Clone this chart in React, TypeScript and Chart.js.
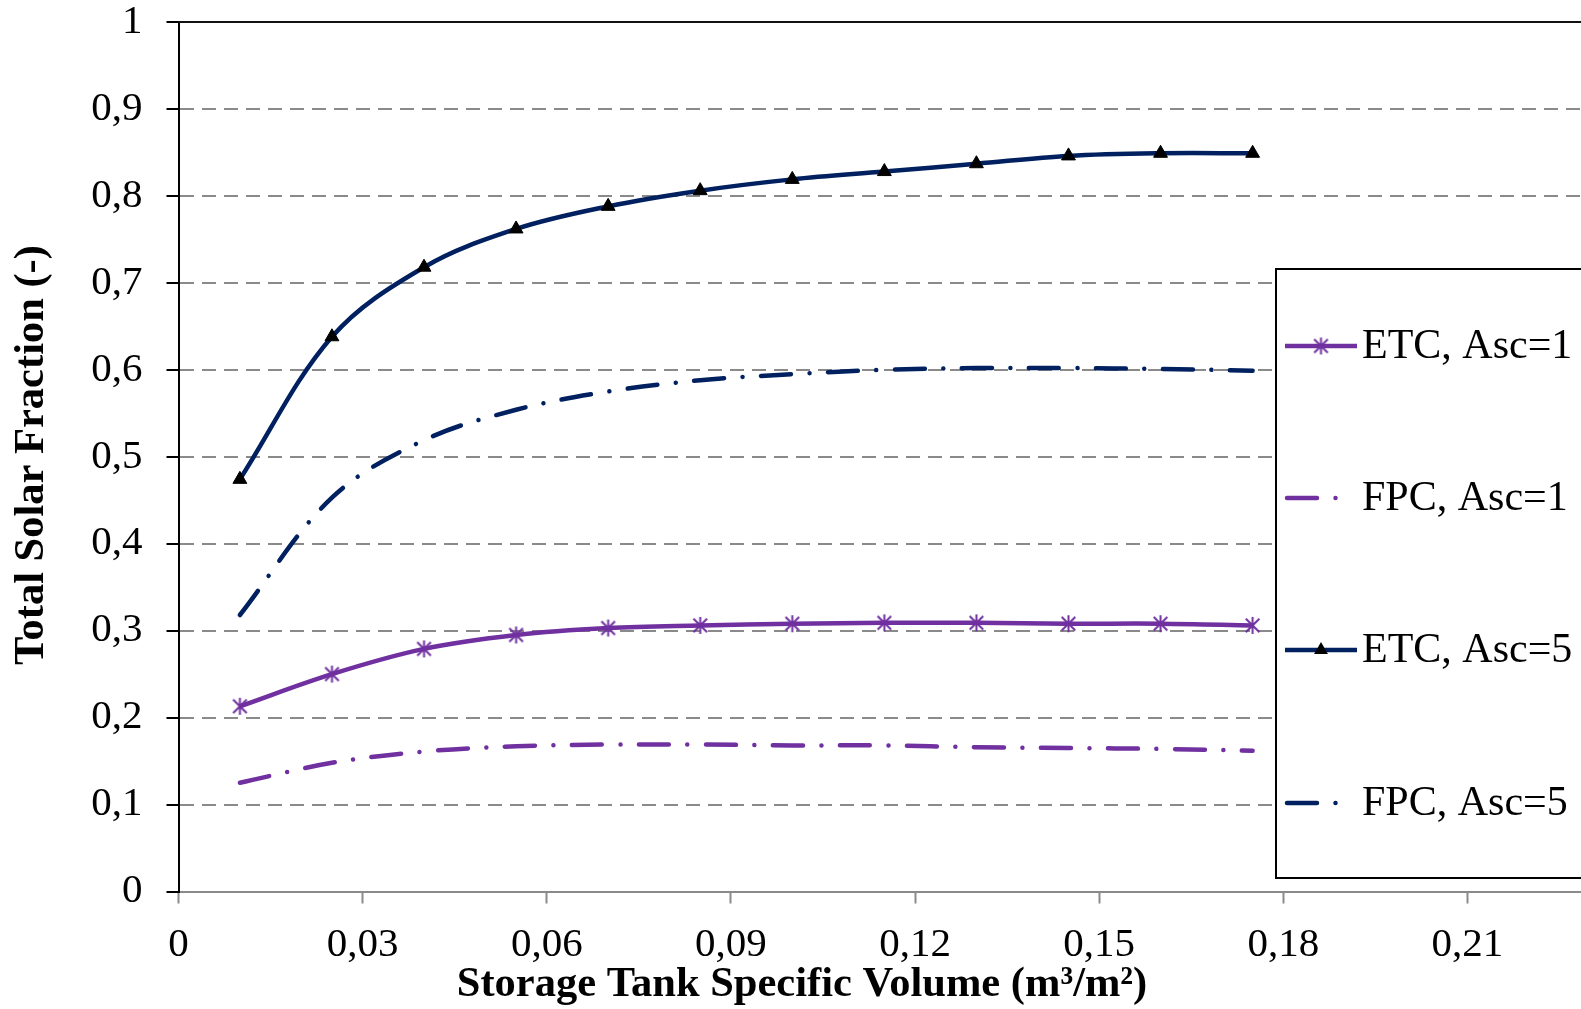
import React, { useEffect, useRef } from "react";
import { Chart, registerables } from "chart.js";

Chart.register(...registerables);

// Storage tank specific volume (m³/m²) at which each case was simulated
const volumes = [0.01, 0.025, 0.04, 0.055, 0.07, 0.085, 0.1, 0.115, 0.13, 0.145, 0.16, 0.175];

// Total solar fraction for each collector / collector-area case
const etcAsc1 = [0.213, 0.25, 0.279, 0.295, 0.303, 0.306, 0.308, 0.309, 0.309, 0.308, 0.308, 0.306];
const fpcAsc1 = [0.125, 0.148, 0.161, 0.167, 0.169, 0.169, 0.168, 0.168, 0.166, 0.165, 0.164, 0.162];
const etcAsc5 = [0.474, 0.638, 0.718, 0.762, 0.788, 0.806, 0.819, 0.828, 0.837, 0.846, 0.849, 0.849];
const fpcAsc5 = [0.318, 0.453, 0.519, 0.554, 0.575, 0.588, 0.595, 0.6, 0.602, 0.602, 0.601, 0.599];

const seriesNames = ["ETC, Asc=1", "FPC, Asc=1", "ETC, Asc=5", "FPC, Asc=5"];

const xTicks = [0, 0.03, 0.06, 0.09, 0.12, 0.15, 0.18, 0.21];
const yTicks = [0, 0.1, 0.2, 0.3, 0.4, 0.5, 0.6, 0.7, 0.8, 0.9, 1];

const xTitle = "Storage Tank Specific Volume (m³/m²)";
const yTitle = "Total Solar Fraction (-)";

const PURPLE = "#7030A0";
const NAVY = "#002060";
const GRID = "#8a8a8a";
const SERIF = "'Liberation Serif', 'Times New Roman', serif";
const DASH_DOT = [30, 18.5, 0.01, 18.5];
const TICK_FONT = 41;
const LEGEND_FONT = 42;
const TITLE_FONT = 42.5;

const W = 1581;
const H = 1009;

const commaFormat = (v: number, digits: number) => {
  if (Math.abs(v) < 1e-9) return "0";
  if (Math.abs(v - 1) < 1e-9) return "1";
  return v.toFixed(digits).replace(".", ",");
};

// Excel-style asterisk marker: vertical bar plus an X
function makeAsterisk(color: string, size: number) {
  const c = document.createElement("canvas");
  c.width = size;
  c.height = size;
  const g = c.getContext("2d")!;
  g.strokeStyle = color;
  g.lineWidth = 2;
  const m = size / 2;
  const r = size / 2 - 1;
  const d = r * 0.8;
  g.beginPath();
  g.moveTo(m, m - r);
  g.lineTo(m, m + r);
  g.moveTo(m - d, m - d);
  g.lineTo(m + d, m + d);
  g.moveTo(m + d, m - d);
  g.lineTo(m - d, m + d);
  g.stroke();
  return c;
}

const toPoints = (ys: number[]) => volumes.map((x, i) => ({ x, y: ys[i] }));

export default function App() {
  const canvasRef = useRef<HTMLCanvasElement | null>(null);

  useEffect(() => {
    const canvas = canvasRef.current;
    if (!canvas) return;
    const asterisk = makeAsterisk(PURPLE, 19);

    const decorPlugin = {
      id: "decor",
      afterDraw(chart: any) {
        const ctx = chart.ctx as CanvasRenderingContext2D;
        const area = chart.chartArea;
        ctx.save();

        // solid top frame line
        ctx.strokeStyle = "#111";
        ctx.lineWidth = 2;
        ctx.setLineDash([]);
        ctx.beginPath();
        ctx.moveTo(area.left, area.top);
        ctx.lineTo(W, area.top);
        ctx.stroke();

        // axis titles
        ctx.fillStyle = "#000";
        ctx.textAlign = "center";
        ctx.textBaseline = "middle";
        ctx.font = `bold ${TITLE_FONT}px ${SERIF}`;
        ctx.fillText(xTitle, 802, 985);

        ctx.save();
        ctx.translate(32, 455);
        ctx.rotate(-Math.PI / 2);
        ctx.fillText(yTitle, 0, 0);
        ctx.restore();

        // legend box
        const bx = 1276;
        const by = 269;
        const bb = 878;
        ctx.fillStyle = "#fff";
        ctx.fillRect(bx, by, W - bx + 10, bb - by);
        ctx.strokeStyle = "#000";
        ctx.lineWidth = 2;
        ctx.strokeRect(bx, by, W - bx + 10, bb - by);

        const rows = [346, 498, 650, 803];
        chart.data.datasets.forEach((ds: any, i: number) => {
          const y = rows[i];
          ctx.save();
          ctx.strokeStyle = ds.borderColor;
          ctx.lineWidth = ds.borderWidth;
          const dashed = ds.borderDash && ds.borderDash.length > 0;
          ctx.setLineDash(dashed ? ds.borderDash : []);
          ctx.lineCap = dashed ? "round" : "butt";
          ctx.beginPath();
          if (dashed) {
            ctx.moveTo(1287, y);
            ctx.lineTo(1340, y);
          } else {
            ctx.moveTo(1285, y);
            ctx.lineTo(1357, y);
          }
          ctx.stroke();
          ctx.restore();

          const mx = 1321;
          if (ds.pointStyle === "triangle") {
            const r = ds.pointRadius;
            ctx.fillStyle = ds.pointBackgroundColor;
            ctx.beginPath();
            ctx.moveTo(mx, y - r);
            ctx.lineTo(mx + r * Math.sin((2 * Math.PI) / 3), y - r * Math.cos((2 * Math.PI) / 3));
            ctx.lineTo(mx + r * Math.sin((4 * Math.PI) / 3), y - r * Math.cos((4 * Math.PI) / 3));
            ctx.closePath();
            ctx.fill();
          } else if (ds.pointStyle instanceof HTMLCanvasElement) {
            const img = ds.pointStyle as HTMLCanvasElement;
            ctx.drawImage(img, mx - img.width / 2, y - img.height / 2);
          }

          ctx.fillStyle = "#000";
          ctx.font = `${LEGEND_FONT}px ${SERIF}`;
          ctx.textAlign = "left";
          ctx.textBaseline = "middle";
          ctx.fillText(ds.label, 1362, y + 1);
        });

        ctx.restore();
      },
    };

    const chart = new Chart(canvas, {
      type: "line",
      data: {
        datasets: [
          {
            label: seriesNames[0],
            data: toPoints(etcAsc1),
            borderColor: PURPLE,
            backgroundColor: PURPLE,
            borderWidth: 4.5,
            tension: 0.35,
            pointStyle: asterisk as any,
            pointRadius: 8,
            fill: false,
          },
          {
            label: seriesNames[1],
            data: toPoints(fpcAsc1),
            borderColor: PURPLE,
            backgroundColor: PURPLE,
            borderWidth: 4.5,
            borderDash: DASH_DOT,
            borderCapStyle: "round",
            tension: 0.35,
            pointRadius: 0,
            fill: false,
          },
          {
            label: seriesNames[2],
            data: toPoints(etcAsc5),
            borderColor: NAVY,
            backgroundColor: NAVY,
            borderWidth: 4.5,
            tension: 0.35,
            pointStyle: "triangle",
            pointRadius: 8,
            pointBackgroundColor: "#000",
            pointBorderColor: "#000",
            pointBorderWidth: 1,
            fill: false,
          },
          {
            label: seriesNames[3],
            data: toPoints(fpcAsc5),
            borderColor: NAVY,
            backgroundColor: NAVY,
            borderWidth: 4.5,
            borderDash: DASH_DOT,
            borderCapStyle: "round",
            tension: 0.35,
            pointRadius: 0,
            fill: false,
          },
        ],
      },
      options: {
        animation: false,
        responsive: false,
        maintainAspectRatio: false,
        events: [],
        layout: { autoPadding: false, padding: { top: 22, left: 0, right: 0, bottom: 0 } },
        plugins: {
          legend: { display: false },
          tooltip: { enabled: false },
          title: { display: false },
        },
        scales: {
          x: {
            type: "linear",
            min: 0,
            max: 0.2285,
            afterBuildTicks: (s: any) => {
              s.ticks = xTicks.map((v) => ({ value: v }));
            },
            afterFit: (s: any) => {
              s.height = H - 891.5;
              s.paddingLeft = 0;
              s.paddingRight = 0;
            },
            ticks: {
              autoSkip: false,
              maxRotation: 0,
              padding: 17,
              color: "#000",
              font: { family: SERIF, size: TICK_FONT },
              callback: (v: any) => commaFormat(Number(v), 2),
            },
            grid: {
              display: true,
              drawOnChartArea: false,
              drawTicks: true,
              tickLength: 12,
              tickColor: GRID,
              tickWidth: 2,
            },
            border: { display: true, color: GRID, width: 2 },
          },
          y: {
            type: "linear",
            min: 0,
            max: 1,
            afterBuildTicks: (s: any) => {
              s.ticks = yTicks.map((v) => ({ value: v }));
            },
            afterFit: (s: any) => {
              s.width = 178.5;
              s.paddingTop = 0;
              s.paddingBottom = 0;
            },
            ticks: {
              autoSkip: false,
              padding: 24,
              color: "#000",
              font: { family: SERIF, size: TICK_FONT },
              callback: (v: any) => commaFormat(Number(v), 1),
            },
            grid: {
              display: true,
              color: GRID,
              lineWidth: 2,
              drawTicks: true,
              tickLength: 12,
              tickColor: "#000",
              tickWidth: 2,
              tickBorderDash: [],
            },
            border: { display: true, color: "#000", width: 2, dash: [14, 8] },
          },
        },
      },
      plugins: [decorPlugin],
    } as any);

    return () => {
      chart.destroy();
    };
  }, []);

  return (
    <div style={{ position: "absolute", left: 0, top: 0, width: W, height: H, background: "#fff" }}>
      <canvas ref={canvasRef} width={W} height={H} style={{ display: "block", width: W, height: H }} />
    </div>
  );
}
